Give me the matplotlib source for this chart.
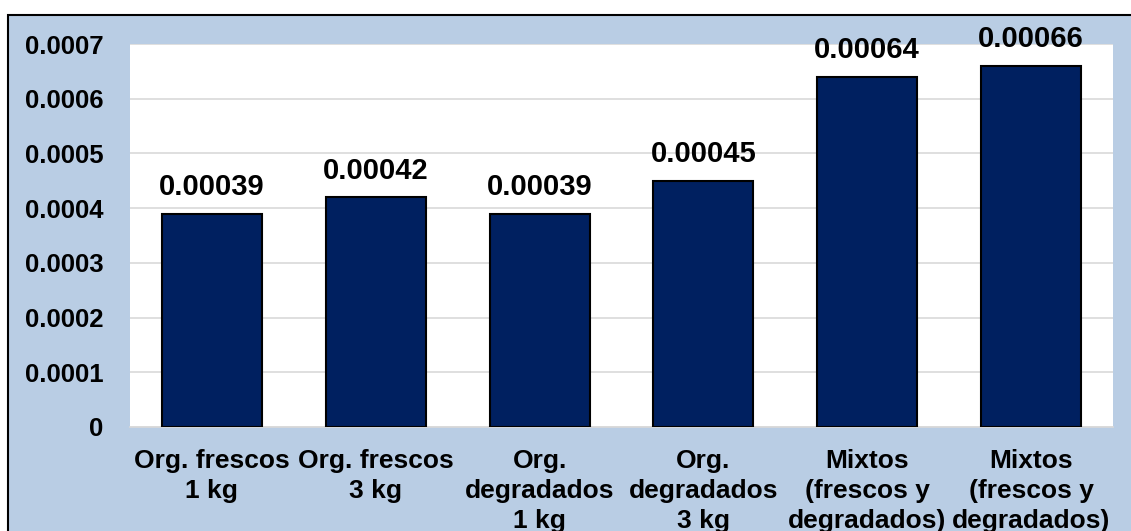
"""Bar chart of emission factors by waste type and load."""

import matplotlib.pyplot as plt
from matplotlib.patches import Rectangle

CATEGORIES = [
    "Org. frescos\n1 kg",
    "Org. frescos\n3 kg",
    "Org.\ndegradados\n1 kg",
    "Org.\ndegradados\n3 kg",
    "Mixtos\n(frescos y\ndegradados)",
    "Mixtos\n(frescos y\ndegradados)",
]
VALUES = [0.00039, 0.00042, 0.00039, 0.00045, 0.00064, 0.00066]
Y_TICKS = [0, 0.0001, 0.0002, 0.0003, 0.0004, 0.0005, 0.0006, 0.0007]
Y_TICK_LABELS = ["0", "0.0001", "0.0002", "0.0003", "0.0004", "0.0005", "0.0006", "0.0007"]

BAR_COLOR = "#002060"
CHART_BG = "#B9CDE4"
GRID_COLOR = "#D9D9D9"


def main() -> None:
    plt.rcParams["font.family"] = ["Liberation Sans", "DejaVu Sans"]
    plt.rcParams["font.weight"] = "bold"

    fig = plt.figure(figsize=(11.31, 5.31), dpi=100)
    fig.patch.set_facecolor("white")

    # chart area panel with dark border, running off the right/bottom edges
    fig.patches.append(Rectangle((8 / 1131, -0.2), 1.2, 0.2 + 516 / 531,
                                 transform=fig.transFigure, facecolor=CHART_BG,
                                 edgecolor="black", linewidth=1.5, zorder=-5))

    ax = fig.add_axes([130 / 1131, 104 / 531, 983 / 1131, 383 / 531])
    ax.set_facecolor("white")

    x = range(len(VALUES))
    bars = ax.bar(x, VALUES, width=0.61, color=BAR_COLOR,
                  edgecolor="black", linewidth=1.5, zorder=3)

    for rect, v in zip(bars, VALUES):
        ax.annotate(f"{v:.5f}", (rect.get_x() + rect.get_width() / 2, v),
                    xytext=(0, 9), textcoords="offset points",
                    ha="center", va="bottom", fontsize=21, fontweight="bold")

    ax.set_ylim(0, 0.0007)
    ax.set_xlim(-0.5, len(VALUES) - 0.5)
    ax.set_yticks(Y_TICKS, Y_TICK_LABELS, fontsize=18.5, fontweight="bold")
    ax.set_xticks(list(x), CATEGORIES, fontsize=19, fontweight="bold",
                  linespacing=1.3)
    ax.tick_params(axis="x", length=0, pad=16)
    ax.tick_params(axis="y", length=0, pad=19)

    ax.grid(axis="y", color=GRID_COLOR, linewidth=1.2, zorder=0)
    for side in ["top", "left", "right"]:
        ax.spines[side].set_visible(False)
    ax.spines["bottom"].set_color(GRID_COLOR)
    ax.spines["bottom"].set_linewidth(1.2)

    fig.savefig("out.png", dpi=100, facecolor=fig.get_facecolor())
    plt.close(fig)


if __name__ == "__main__":
    main()
